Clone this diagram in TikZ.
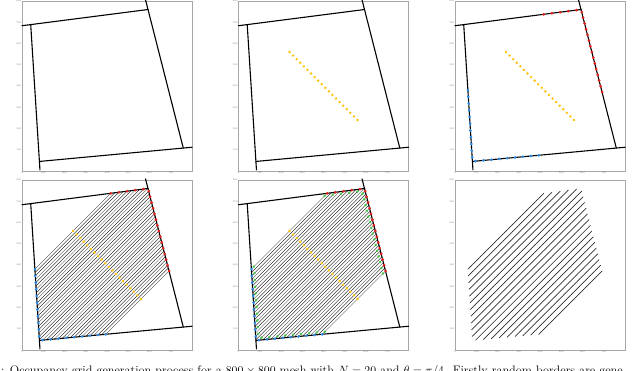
\documentclass[tikz,border=0pt]{standalone}
\definecolor{seedyellow}{HTML}{FFC000}
\definecolor{hitred}{HTML}{E8201C}
\definecolor{hitblue}{HTML}{2A8CE8}
\definecolor{hitgreen}{HTML}{3CC83C}
\tikzset{
  border/.style={line width=1.1pt},
  axisframe/.style={draw=black!35,line width=0.3pt},
  ticklabel/.style={font=\fontsize{2.4}{2.6}\selectfont,text=black!55,inner sep=0.5pt},
  hatchline/.style={line width=0.3pt},
  gridline/.style={line width=0.7pt,draw=black!85,dash pattern=on 0.8pt off 0.3pt},
}
% frame and ticks of one 800x800 plot
\newcommand\panelframe{%
  \draw[axisframe] (0,0) rectangle (800,800);
  \foreach \v in {0,100,...,700} \node[ticklabel,below] at (\v,0) {\v};
  \foreach \v in {100,200,...,800} \node[ticklabel,left] at (0,\v) {\v};
}
% the four random borders
\newcommand\borderlines{%
  \draw[border] (0,683.7) -- (593,760);
  \draw[border] (581.5,805) -- (759,108);
  \draw[border] (82,45) -- (800,111.8);
  \draw[border] (41,689) -- (84.5,5);
}
% seeds on the line normal to pi/4
\newcommand\seedpoints{%
  \foreach \i in {0,...,19}
    \fill[seedyellow] ({240+16.842*\i},{560-16.842*\i}) circle (1.3pt);
}
% where the line y = x + c meets the borders
\newcommand\gethits[1]{%
  \pgfmathsetmacro\xT{(683.7-#1)/0.8714}%
  \pgfmathsetmacro\xR{(593+0.2546*(760-#1))/1.2546}%
  \pgfmathsetmacro\rx{min(\xT,\xR)}%
  \pgfmathsetmacro\xL{(41+0.06366*(689-#1))/1.06366}%
  \pgfmathsetmacro\xB{(37.366-#1)/0.9069}%
  \pgfmathsetmacro\bx{max(\xL,\xB)}%
}
\newcommand\hitpoints{%
  \foreach \i in {0,...,19}{
    \pgfmathsetmacro\c{320-33.684*\i}\gethits{\c}
    \fill[hitred] (\rx,{\rx+\c}) circle (1.5pt);
    \fill[hitblue] (\bx,{\bx+\c}) circle (1.5pt);
  }
}
\newcommand\hatching{%
  \foreach \i in {0,...,38}{
    \pgfmathsetmacro\c{320-16.842*\i}\gethits{\c}
    \draw[hatchline] (\bx,{\bx+\c}) -- (\rx,{\rx+\c});
  }
}
\begin{document}
\begin{tikzpicture}[x=1pt,y=1pt,line cap=round,line join=round]
\useasboundingbox (0,0) rectangle (640,-370);

% top row
\begin{scope}[shift={(22,-171)},x=0.2125pt,y=0.2125pt]
  \panelframe
  \borderlines
\end{scope}
\begin{scope}[shift={(238.5,-171)},x=0.2125pt,y=0.2125pt]
  \panelframe
  \borderlines
  \seedpoints
\end{scope}
\begin{scope}[shift={(455,-171)},x=0.2125pt,y=0.2125pt]
  \panelframe
  \borderlines
  \seedpoints
  \hitpoints
\end{scope}

% bottom row
\begin{scope}[shift={(22,-350)},x=0.2125pt,y=0.2125pt]
  \panelframe
  \hatching
  \borderlines
  \seedpoints
  \hitpoints
\end{scope}
\begin{scope}[shift={(238.5,-350)},x=0.2125pt,y=0.2125pt]
  \panelframe
  \hatching
  \borderlines
  \seedpoints
  \hitpoints
  \foreach \i in {0,...,19}{
    \pgfmathsetmacro\c{320-33.684*\i}\gethits{\c}
    \fill[hitgreen] ({\rx-12},{\rx+\c-12}) circle (1.3pt);
    \fill[hitgreen] ({\bx+12},{\bx+\c+12}) circle (1.3pt);
  }
\end{scope}
\begin{scope}[shift={(455,-350)},x=0.2125pt,y=0.2125pt]
  \panelframe
  \foreach \i in {0,...,19}{
    \pgfmathsetmacro\c{320-33.684*\i}\gethits{\c}
    \draw[gridline] (\bx,{\bx+\c}) -- (\rx,{\rx+\c});
  }
\end{scope}

% caption, cut by the page edge as in the source figure
\begin{scope}
  \clip (0,-355) rectangle (640,-370);
  \node[anchor=base west,inner sep=0pt,font=\fontsize{12.3}{14}\selectfont] (caption) at (1,-374.5)
    {: Occupancy grid generation process for a $800\times800$ mesh with $N=20$ and $\theta=\pi/4$. Firstly random borders are gene};
\end{scope}
\end{tikzpicture}
\end{document}
